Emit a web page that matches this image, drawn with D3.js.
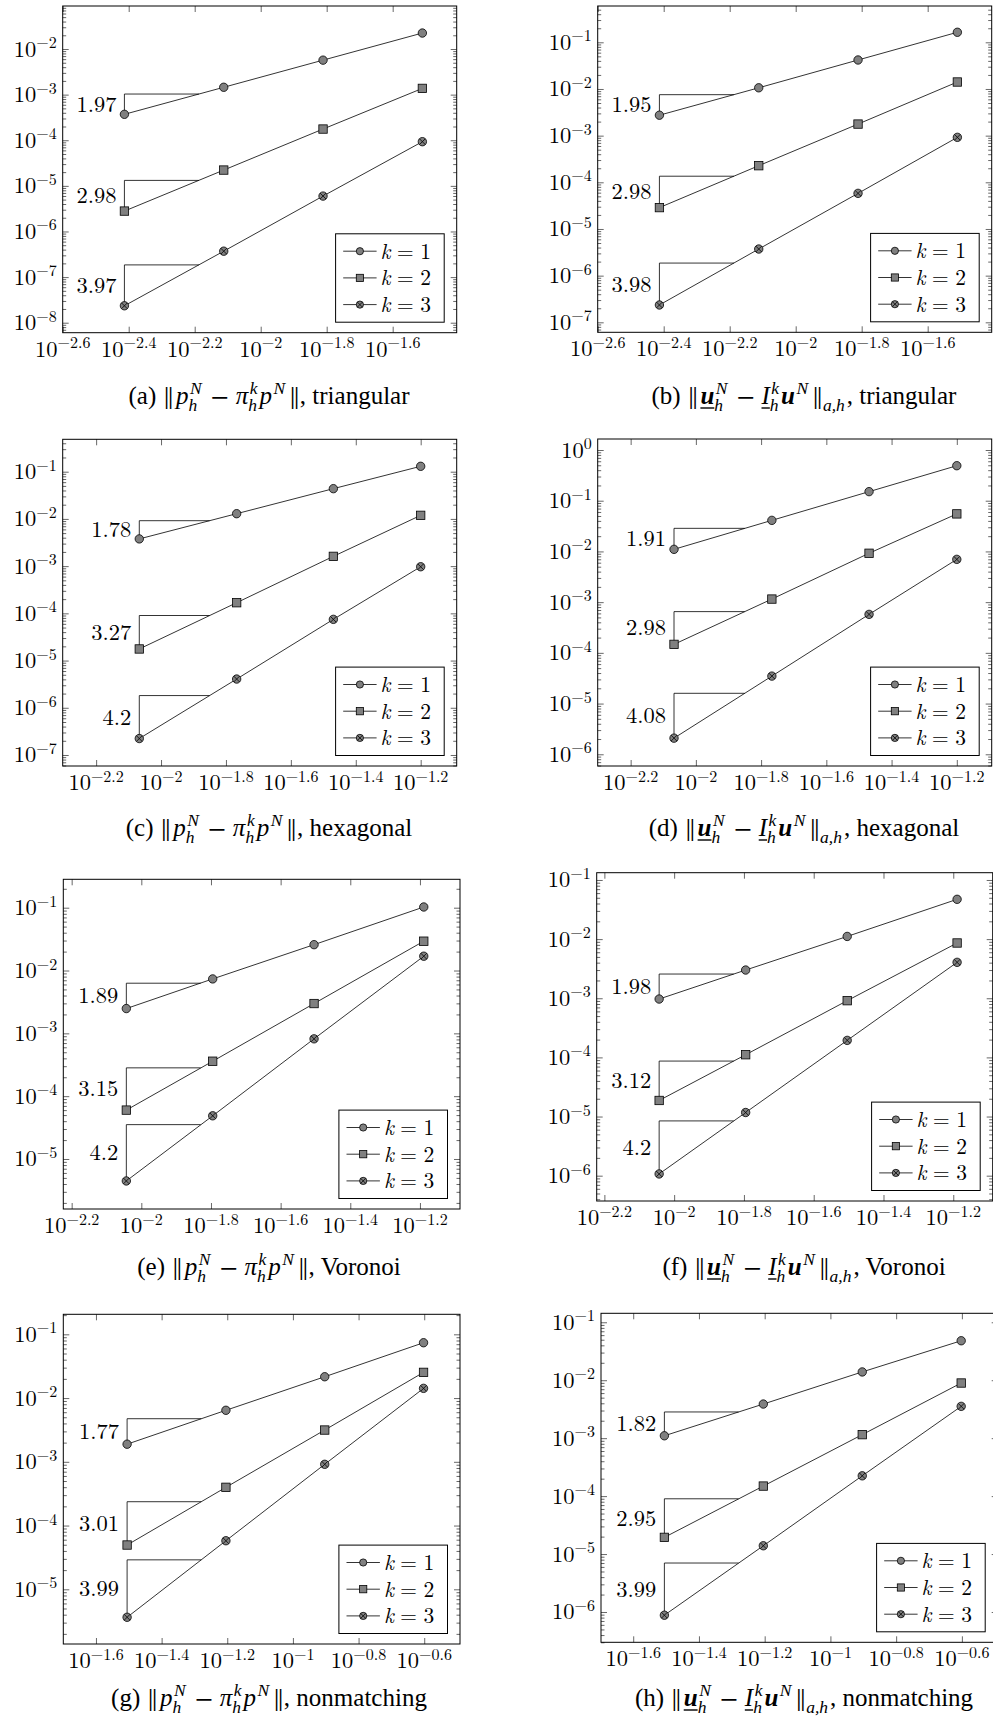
<!DOCTYPE html>
<html>
<head>
<meta charset="utf-8">
<script src="https://cdn.jsdelivr.net/npm/d3@7"></script>
<style>
  body { margin: 0; background: #fff; }
  svg { display: block; }
  svg text { fill: #000; }
</style>
</head>
<body>
<svg id="fig" width="993" height="1728"></svg>
<script>
// ---- mesh sizes h for each mesh family ----
const hTriangular   = [0.003864, 0.007727, 0.01545, 0.0309];
const hHexagonal    = [0.00857, 0.0171, 0.03396, 0.0631];
const hVoronoi      = [0.009057, 0.01603, 0.03133, 0.06471];
const hNonmatching  = [0.03125, 0.0625, 0.125, 0.25];

// polynomial degrees k (legend entries)
const degrees = ["1", "2", "3"];

// ---- pressure errors ||p_h^N - pi_h^k p^N|| ----
const pTriK1 = [3.7e-4, 1.45e-3, 5.7e-3, 2.24e-2];
const pTriK2 = [2.8e-6, 2.22e-5, 1.76e-4, 1.37e-3];
const pTriK3 = [2.35e-8, 3.7e-7, 5.97e-6, 9.3e-5];
const pTriRates = [1.97, 2.98, 3.97];

const pHexK1 = [3.77e-3, 1.29e-2, 4.37e-2, 0.130];
const pHexK2 = [1.76e-5, 1.68e-4, 1.61e-3, 1.19e-2];
const pHexK3 = [2.23e-7, 4.06e-6, 7.46e-5, 9.7e-4];
const pHexRates = [1.78, 3.27, 4.2];

const pVorK1 = [2.48e-3, 7.35e-3, 2.58e-2, 0.1026];
const pVorK2 = [6.0e-5, 3.6e-4, 2.98e-3, 2.93e-2];
const pVorK3 = [4.47e-6, 4.87e-5, 8.18e-4, 1.69e-2];
const pVorRates = [1.89, 3.15, 4.2];

const pNmK1 = [1.89e-3, 6.43e-3, 2.16e-2, 7.38e-2];
const pNmK2 = [4.95e-5, 3.98e-4, 3.15e-3, 2.53e-2];
const pNmK3 = [3.64e-6, 5.78e-5, 9.14e-4, 1.42e-2];
const pNmRates = [1.77, 3.01, 3.99];

// ---- velocity errors ||u_h^N - I_h^k u^N||_{a,h} ----
const uTriK1 = [2.74e-3, 1.06e-2, 4.18e-2, 0.164];
const uTriK2 = [2.87e-5, 2.27e-4, 1.77e-3, 1.41e-2];
const uTriK3 = [2.35e-7, 3.72e-6, 5.8e-5, 9.2e-4];
const uTriRates = [1.95, 2.98, 3.98];

const uHexK1 = [1.1e-2, 4.1e-2, 0.151, 0.49];
const uHexK2 = [1.47e-4, 1.15e-3, 9.2e-3, 5.5e-2];
const uHexK3 = [2.08e-6, 3.48e-5, 5.74e-4, 6.98e-3];
const uHexRates = [1.91, 2.98, 4.08];

const uVorK1 = [9.7e-4, 3.0e-3, 1.11e-2, 4.71e-2];
const uVorK2 = [1.87e-5, 1.11e-4, 9.1e-4, 8.6e-3];
const uVorK3 = [1.07e-6, 1.17e-5, 1.94e-4, 4.05e-3];
const uVorRates = [1.98, 3.12, 4.2];

const uNmK1 = [1.1e-3, 3.88e-3, 1.39e-2, 4.8e-2];
const uNmK2 = [1.94e-5, 1.49e-4, 1.15e-3, 8.95e-3];
const uNmK3 = [8.8e-7, 1.39e-5, 2.24e-4, 3.54e-3];
const uNmRates = [1.82, 2.95, 3.99];

// ---- caption pieces (sym: drawn with the math symbol font) ----
const capP = (tag, mesh) => [
  {t: "(" + tag + ")", after: 7}, {t: "\u2016", sym: 1, after: 2}, {t: "p", it: 1}, {sub: "h", sup: "N"},
  {t: "\u2212", sym: 1, before: 7, after: 7}, {t: "\u03C0", it: 1}, {sub: "h", sup: "k"},
  {t: "p", it: 1}, {sup: "N"}, {t: "\u2016", sym: 1, before: 2}, {t: ", " + mesh}
];
const capU = (tag, mesh) => [
  {t: "(" + tag + ")", after: 7}, {t: "\u2016", sym: 1, after: 2}, {t: "u", it: 1, b: 1, ul: 1}, {sub: "h", sup: "N"},
  {t: "\u2212", sym: 1, before: 7, after: 7}, {t: "I", it: 1, ul: 1}, {sub: "h", sup: "k"},
  {t: "u", it: 1, b: 1}, {sup: "N"}, {t: "\u2016", sym: 1, before: 2}, {sub: "a,h"}, {t: ", " + mesh}
];

// ---- panel frames (pixel boxes) and log10 axis extents ----
const panels = [
  {h: hTriangular, err: [pTriK1, pTriK2, pTriK3], rates: pTriRates, cap: capP("a", "triangular"),
   box: [62.7, 6, 456.7, 332.7], xl: [-2.6, -1.406], yl: [-8.219, -1.057], cx: 269, cy: 404},
  {h: hTriangular, err: [uTriK1, uTriK2, uTriK3], rates: uTriRates, cap: capU("b", "triangular"),
   box: [597.7, 6, 991.7, 332.3], xl: [-2.6, -1.406], yl: [-7.214, -0.222], cx: 804, cy: 404},
  {h: hHexagonal, err: [pHexK1, pHexK2, pHexK3], rates: pHexRates, cap: capP("c", "hexagonal"),
   box: [62.7, 439.3, 456.7, 766], xl: [-2.303, -1.089], yl: [-7.233, -0.314], cx: 269, cy: 836},
  {h: hHexagonal, err: [uHexK1, uHexK2, uHexK3], rates: uHexRates, cap: capU("d", "hexagonal"),
   box: [597.7, 439, 991.7, 766], xl: [-2.301, -1.093], yl: [-6.231, 0.217], cx: 804, cy: 836},
  {h: hVoronoi, err: [pVorK1, pVorK2, pVorK3], rates: pVorRates, cap: capP("e", "Voronoi"),
   box: [63.3, 879.3, 460, 1209], xl: [-2.224, -1.085], yl: [-5.796, -0.548], cx: 269, cy: 1275},
  {h: hVoronoi, err: [uVorK1, uVorK2, uVorK3], rates: uVorRates, cap: capU("f", "Voronoi"),
   box: [596.7, 872.7, 992.7, 1201], xl: [-2.222, -1.087], yl: [-6.428, -0.877], cx: 804, cy: 1275},
  {h: hNonmatching, err: [pNmK1, pNmK2, pNmK3], rates: pNmRates, cap: capP("g", "nonmatching"),
   box: [63.3, 1314.3, 460, 1644], xl: [-1.6995, -0.491], yl: [-5.858, -0.686], cx: 269, cy: 1706},
  {h: hNonmatching, err: [uNmK1, uNmK2, uNmK3], rates: uNmRates, cap: capU("h", "nonmatching"),
   box: [601, 1313.3, 997.7, 1642.3], xl: [-1.698, -0.491], yl: [-6.523, -0.845], cx: 804, cy: 1706}
];

const svg = d3.select("#fig");
const PLOT_FONT = "'Latin Modern Roman', 'Liberation Serif', serif";
const CAP_FONT = "'Liberation Serif', 'STIX Two Text', serif";
const SYM_FONT = "'STIX Two Text', 'Liberation Serif', serif";
const MARK_FILL = "#808080";
const FS = 22.5;      // tick base / rate font size
const LEGFS = 21.5;   // legend font size
const SUP = 16;       // exponent font size
const CAPFS = 25;     // caption font size

const fmtExp = v => {
  const r = Math.round(v * 10) / 10;
  return (r < 0 ? "\u2212" : "") + Math.abs(r).toString();
};

const ptxt = g => g.append("text").style("font-family", PLOT_FONT);

function drawMarker(g, shape, x, y, r) {
  if (shape === "square") {
    g.append("rect").attr("x", x - r).attr("y", y - r).attr("width", 2 * r).attr("height", 2 * r)
      .attr("fill", MARK_FILL).attr("stroke", "#000").attr("stroke-width", 0.8);
  } else {
    g.append("circle").attr("cx", x).attr("cy", y).attr("r", r)
      .attr("fill", MARK_FILL).attr("stroke", "#000").attr("stroke-width", 0.8);
    if (shape === "otimes") {
      const d = r * 0.707;
      g.append("path")
        .attr("d", `M${x - d},${y - d}L${x + d},${y + d}M${x - d},${y + d}L${x + d},${y - d}`)
        .attr("stroke", "#000").attr("stroke-width", 0.8);
    }
  }
}

// lays out a caption with stacked sub/superscripts, returns its group and width
function richText(g, pieces, fs) {
  const grp = g.append("g");
  const ss = fs * 0.7;
  let x = 0;
  pieces.forEach(p => {
    if (p.t !== undefined) {
      x += p.before || 0;
      const el = grp.append("text").style("font-family", p.sym ? SYM_FONT : CAP_FONT)
        .attr("x", x).attr("y", 0).style("font-size", fs + "px")
        .style("white-space", "pre").text(p.t);
      if (p.it) el.style("font-style", "italic");
      if (p.b) el.style("font-weight", "bold");
      const w = el.node().getComputedTextLength();
      if (p.ul) {
        grp.append("line").attr("x1", x).attr("x2", x + w)
          .attr("y1", fs * 0.16).attr("y2", fs * 0.16)
          .attr("stroke", "#000").attr("stroke-width", 1.4);
      }
      x += w + (p.after || 0);
    } else {
      let w = 0;
      if (p.sup) {
        const e = grp.append("text").style("font-family", CAP_FONT).attr("x", x + 1.5).attr("y", -fs * 0.42)
          .style("font-size", ss + "px").style("font-style", "italic").text(p.sup);
        w = Math.max(w, e.node().getComputedTextLength() + 1.5);
      }
      if (p.sub) {
        const e = grp.append("text").style("font-family", CAP_FONT).attr("x", x).attr("y", fs * 0.27)
          .style("font-size", ss + "px").style("font-style", "italic").text(p.sub);
        w = Math.max(w, e.node().getComputedTextLength());
      }
      x += w + 2;
    }
  });
  return {grp, width: x};
}

function powLabel(sel, exp) {
  sel.append("tspan").style("font-size", FS + "px").text("10");
  sel.append("tspan").attr("dy", -8.5).style("font-size", SUP + "px").text(exp);
}

panels.forEach(P => {
  const [x0, y0, x1, y1] = P.box;
  const g = svg.append("g");
  const x = d3.scaleLog().domain([10 ** P.xl[0], 10 ** P.xl[1]]).range([x0, x1]);
  const y = d3.scaleLog().domain([10 ** P.yl[0], 10 ** P.yl[1]]).range([y1, y0]);

  // tick values
  const yMajor = d3.range(Math.ceil(P.yl[0]), Math.floor(P.yl[1]) + 1).map(n => 10 ** n);
  const yMinor = [];
  for (let n = Math.floor(P.yl[0]); n <= Math.ceil(P.yl[1]); n++) {
    for (let m = 2; m <= 9; m++) {
      const l = Math.log10(m) + n;
      if (l > P.yl[0] && l < P.yl[1]) yMinor.push(m * 10 ** n);
    }
  }
  const xExp = d3.range(Math.ceil(P.xl[0] / 0.2 - 0.02), Math.floor(P.xl[1] / 0.2 + 0.02) + 1)
    .map(k => Math.round(k * 2) / 10);
  const xMajor = xExp.map(e => 10 ** e);

  const tickStyle = sel => {
    sel.select(".domain").remove();
    sel.attr("color", "#000").selectAll("line").attr("stroke-width", 0.6);
  };
  g.append("g").attr("transform", `translate(${x0},0)`)
    .call(d3.axisLeft(y).tickValues(yMajor).tickSize(-6).tickFormat("")).call(tickStyle);
  g.append("g").attr("transform", `translate(${x0},0)`)
    .call(d3.axisLeft(y).tickValues(yMinor).tickSize(-3.5).tickFormat("")).call(tickStyle);
  g.append("g").attr("transform", `translate(${x1},0)`)
    .call(d3.axisRight(y).tickValues(yMajor).tickSize(-6).tickFormat("")).call(tickStyle);
  g.append("g").attr("transform", `translate(${x1},0)`)
    .call(d3.axisRight(y).tickValues(yMinor).tickSize(-3.5).tickFormat("")).call(tickStyle);
  g.append("g").attr("transform", `translate(0,${y1})`)
    .call(d3.axisBottom(x).tickValues(xMajor).tickSize(-6).tickFormat("")).call(tickStyle);
  g.append("g").attr("transform", `translate(0,${y0})`)
    .call(d3.axisTop(x).tickValues(xMajor).tickSize(-6).tickFormat("")).call(tickStyle);

  // tick labels
  yMajor.forEach(v => {
    const t = ptxt(g).attr("x", x0 - 6).attr("y", y(v) + 7.5).attr("text-anchor", "end");
    powLabel(t, fmtExp(Math.log10(v)));
  });
  xExp.forEach(e => {
    const t = ptxt(g).attr("x", x(10 ** e)).attr("y", y1 + 24).attr("text-anchor", "middle");
    powLabel(t, fmtExp(e));
  });

  // frame
  g.append("rect").attr("x", x0).attr("y", y0).attr("width", x1 - x0).attr("height", y1 - y0)
    .attr("fill", "none").attr("stroke", "#000").attr("stroke-width", 1);

  const shapes = ["circle", "square", "otimes"];
  const lx0 = Math.log10(P.h[0]);
  const span = Math.log10(P.h[P.h.length - 1]) - lx0;
  const run = span / 4;

  P.err.forEach((vals, i) => {
    // slope triangle built from the stated rate
    const ly0 = Math.log10(vals[0]);
    const yTop = 10 ** (ly0 + P.rates[i] * run);
    const xEnd = 10 ** (lx0 + run);
    g.append("path")
      .attr("d", `M${x(P.h[0])},${y(vals[0])}V${y(yTop)}H${x(xEnd)}`)
      .attr("fill", "none").attr("stroke", "#000").attr("stroke-width", 0.8);
    ptxt(g).attr("x", x(P.h[0]) - 8).attr("y", (y(vals[0]) + y(yTop)) / 2 + 7.5)
      .attr("text-anchor", "end").style("font-size", FS + "px").text(P.rates[i].toString());

    const line = d3.line().x((d, j) => x(P.h[j])).y(d => y(d));
    g.append("path").attr("d", line(vals)).attr("fill", "none")
      .attr("stroke", "#000").attr("stroke-width", 0.8);
    vals.forEach((v, j) => drawMarker(g, shapes[i], x(P.h[j]), y(v), 4.2));
  });

  // legend
  const lw = 108.6, lh = 88.4;
  const lx = x1 - 12.5 - lw, ly = y1 - 10.5 - lh;
  const lg = g.append("g");
  lg.append("rect").attr("x", lx).attr("y", ly).attr("width", lw).attr("height", lh)
    .attr("fill", "#fff").attr("stroke", "#000").attr("stroke-width", 1);
  degrees.forEach((k, i) => {
    const ry = ly + 17.4 + i * 26.7;
    lg.append("line").attr("x1", lx + 7.6).attr("x2", lx + 41).attr("y1", ry).attr("y2", ry)
      .attr("stroke", "#000").attr("stroke-width", 0.8);
    drawMarker(lg, shapes[i], lx + 24.3, ry, 3.6);
    const t = ptxt(lg).attr("x", lx + 45).attr("y", ry + 7.3).style("font-size", LEGFS + "px");
    t.append("tspan").style("font-style", "italic").text("k");
    t.append("tspan").attr("dx", 6.5).text("=");
    t.append("tspan").attr("dx", 6.5).text(k);
  });

  // caption
  const c = richText(svg, P.cap, CAPFS);
  c.grp.attr("transform", `translate(${P.cx - c.width / 2},${P.cy})`);
});
</script>
</body>
</html>
